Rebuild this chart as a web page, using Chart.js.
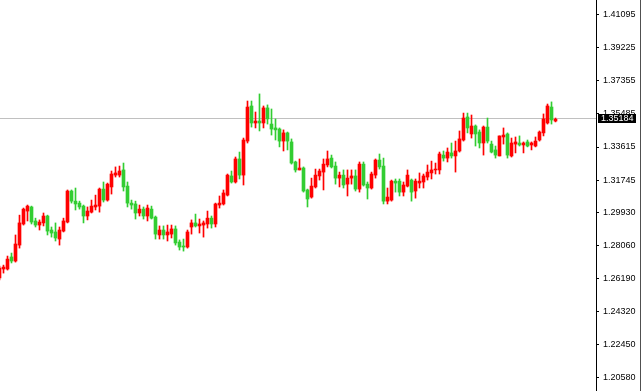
<!DOCTYPE html>
<html>
<head>
<meta charset="utf-8">
<script src="https://cdn.jsdelivr.net/npm/chart.js@4.4.1/dist/chart.umd.min.js"></script>
<style>
    html, body { margin: 0; padding: 0; background: #ffffff; }
    canvas { display: block; }
</style>
</head>
<body>
<canvas id="priceChart" width="643" height="391"></canvas>
<script>
// candle data, oldest first
const opens = [
    1.2622, 1.2673, 1.2673, 1.2741, 1.2718, 1.2808, 1.2927, 1.3000, 1.3023, 1.2944,
    1.2921, 1.2933, 1.2972, 1.2893, 1.2882, 1.2842, 1.2887, 1.2938, 1.3113, 1.3056,
    1.3045, 1.3028, 1.2972, 1.2994, 1.3023, 1.3028, 1.3124, 1.3062, 1.3136, 1.3203,
    1.3203, 1.3232, 1.3141, 1.3045, 1.3040, 1.2989, 1.3011, 1.2972, 1.3011, 1.2966,
    1.2865, 1.2893, 1.2865, 1.2870, 1.2899, 1.2825, 1.2803, 1.2797, 1.2910, 1.2933,
    1.2916, 1.2921, 1.2927, 1.2960, 1.2927, 1.3034, 1.3040, 1.3090, 1.3198, 1.3164,
    1.3294, 1.3203, 1.3395, 1.3593, 1.3497, 1.3508, 1.3497, 1.3582, 1.3491, 1.3469,
    1.3463, 1.3395, 1.3441, 1.3390, 1.3277, 1.3232, 1.3243, 1.3119, 1.3079, 1.3136,
    1.3198, 1.3220, 1.3260, 1.3299, 1.3254, 1.3186, 1.3203, 1.3152, 1.3186, 1.3198,
    1.3124, 1.3265, 1.3152, 1.3130, 1.3203, 1.3288, 1.3254, 1.3056, 1.3062, 1.3169,
    1.3169, 1.3107, 1.3141, 1.3175, 1.3113, 1.3158, 1.3164, 1.3192, 1.3215, 1.3232,
    1.3232, 1.3316, 1.3299, 1.3328, 1.3311, 1.3339, 1.3401, 1.3531, 1.3435, 1.3480,
    1.3446, 1.3384, 1.3474, 1.3378, 1.3345, 1.3311, 1.3418, 1.3435, 1.3311, 1.3378,
    1.3384, 1.3373, 1.3390, 1.3373, 1.3367, 1.3401, 1.3441, 1.3497, 1.3587, 1.3508
]
const highs = [
    1.2690, 1.2695, 1.2746, 1.2763, 1.2865, 1.2977, 1.3017, 1.3034, 1.3028, 1.2960,
    1.2950, 1.2989, 1.2977, 1.2910, 1.2933, 1.2910, 1.2960, 1.3119, 1.3119, 1.3130,
    1.3056, 1.3034, 1.3023, 1.3062, 1.3090, 1.3130, 1.3164, 1.3158, 1.3226, 1.3249,
    1.3254, 1.3271, 1.3164, 1.3062, 1.3056, 1.3034, 1.3023, 1.3034, 1.3028, 1.2972,
    1.2916, 1.2916, 1.2921, 1.2921, 1.2916, 1.2837, 1.2842, 1.2893, 1.2950, 1.2983,
    1.2955, 1.2944, 1.3000, 1.2972, 1.3045, 1.3085, 1.3119, 1.3209, 1.3226, 1.3305,
    1.3333, 1.3412, 1.3621, 1.3621, 1.3559, 1.3661, 1.3593, 1.3599, 1.3576, 1.3520,
    1.3469, 1.3458, 1.3446, 1.3407, 1.3282, 1.3294, 1.3249, 1.3124, 1.3186, 1.3237,
    1.3237, 1.3294, 1.3339, 1.3316, 1.3277, 1.3220, 1.3232, 1.3232, 1.3232, 1.3232,
    1.3277, 1.3277, 1.3164, 1.3220, 1.3294, 1.3322, 1.3299, 1.3130, 1.3175, 1.3181,
    1.3181, 1.3164, 1.3232, 1.3181, 1.3181, 1.3215, 1.3209, 1.3260, 1.3282, 1.3271,
    1.3333, 1.3339, 1.3356, 1.3384, 1.3395, 1.3452, 1.3553, 1.3553, 1.3542, 1.3486,
    1.3458, 1.3480, 1.3525, 1.3395, 1.3367, 1.3424, 1.3469, 1.3441, 1.3412, 1.3418,
    1.3424, 1.3390, 1.3401, 1.3390, 1.3418, 1.3452, 1.3548, 1.3604, 1.3616, 1.3525
]
const lows = [
    1.2611, 1.2650, 1.2667, 1.2707, 1.2712, 1.2791, 1.2921, 1.2944, 1.2927, 1.2910,
    1.2893, 1.2916, 1.2865, 1.2853, 1.2831, 1.2808, 1.2882, 1.2933, 1.3045, 1.3006,
    1.3011, 1.2933, 1.2950, 1.2989, 1.3006, 1.2994, 1.3051, 1.3056, 1.3096, 1.3192,
    1.3192, 1.3113, 1.3023, 1.3011, 1.2955, 1.2972, 1.2955, 1.2944, 1.2955, 1.2842,
    1.2842, 1.2842, 1.2831, 1.2848, 1.2808, 1.2780, 1.2774, 1.2791, 1.2870, 1.2910,
    1.2876, 1.2853, 1.2904, 1.2904, 1.2910, 1.3017, 1.3034, 1.3085, 1.3158, 1.3158,
    1.3181, 1.3147, 1.3384, 1.3474, 1.3469, 1.3452, 1.3469, 1.3491, 1.3429, 1.3401,
    1.3362, 1.3339, 1.3345, 1.3265, 1.3220, 1.3232, 1.3107, 1.3023, 1.3073, 1.3130,
    1.3175, 1.3119, 1.3249, 1.3243, 1.3152, 1.3136, 1.3130, 1.3085, 1.3152, 1.3113,
    1.3107, 1.3141, 1.3068, 1.3124, 1.3186, 1.3237, 1.3040, 1.3040, 1.3056, 1.3107,
    1.3085, 1.3085, 1.3136, 1.3056, 1.3073, 1.3130, 1.3130, 1.3175, 1.3181, 1.3209,
    1.3209, 1.3282, 1.3277, 1.3299, 1.3220, 1.3333, 1.3395, 1.3441, 1.3412, 1.3367,
    1.3356, 1.3316, 1.3384, 1.3328, 1.3299, 1.3311, 1.3378, 1.3299, 1.3305, 1.3328,
    1.3367, 1.3328, 1.3362, 1.3345, 1.3362, 1.3395, 1.3424, 1.3491, 1.3491, 1.3503
]
const closes = [
    1.2678, 1.2684, 1.2729, 1.2718, 1.2814, 1.2933, 1.3011, 1.3028, 1.2938, 1.2921,
    1.2938, 1.2972, 1.2887, 1.2876, 1.2848, 1.2893, 1.2944, 1.3113, 1.3056, 1.3040,
    1.3023, 1.2972, 1.3000, 1.3028, 1.3034, 1.3124, 1.3062, 1.3152, 1.3209, 1.3215,
    1.3226, 1.3136, 1.3045, 1.3034, 1.2989, 1.3011, 1.2972, 1.3017, 1.2960, 1.2870,
    1.2893, 1.2865, 1.2882, 1.2899, 1.2820, 1.2797, 1.2797, 1.2882, 1.2933, 1.2916,
    1.2927, 1.2933, 1.2960, 1.2927, 1.3040, 1.3045, 1.3102, 1.3203, 1.3164, 1.3294,
    1.3203, 1.3401, 1.3587, 1.3497, 1.3508, 1.3497, 1.3582, 1.3520, 1.3463, 1.3458,
    1.3395, 1.3441, 1.3395, 1.3271, 1.3232, 1.3243, 1.3113, 1.3068, 1.3141, 1.3203,
    1.3226, 1.3265, 1.3294, 1.3249, 1.3186, 1.3203, 1.3147, 1.3186, 1.3198, 1.3124,
    1.3265, 1.3147, 1.3130, 1.3209, 1.3288, 1.3249, 1.3056, 1.3079, 1.3169, 1.3158,
    1.3107, 1.3147, 1.3203, 1.3107, 1.3169, 1.3169, 1.3198, 1.3220, 1.3232, 1.3237,
    1.3322, 1.3299, 1.3333, 1.3311, 1.3339, 1.3407, 1.3525, 1.3469, 1.3480, 1.3435,
    1.3384, 1.3474, 1.3395, 1.3333, 1.3316, 1.3424, 1.3429, 1.3316, 1.3384, 1.3390,
    1.3373, 1.3384, 1.3367, 1.3384, 1.3395, 1.3446, 1.3520, 1.3593, 1.3514, 1.3518
]

// price axis labels and current bid
const priceTicks = [1.41095, 1.39225, 1.37355, 1.35485, 1.33615, 1.31745, 1.29930, 1.28060, 1.26190, 1.24320, 1.22450, 1.20580]
const currentPrice = 1.35184

const upColor = '#ff0000'
const downColor = '#32cd32'

window.addEventListener("load", (event) => {

    var ctx = document.getElementById('priceChart')

    var candleColors = opens.map((o, i) => closes[i] > o ? upColor : downColor)

    const bodies = {
        label: 'Body',
        data: opens.map((o, i) => ({ x: i, y: [o, closes[i]] })),
        backgroundColor: candleColors,
        barThickness: 3,
        grouped: false
    }

    const wicks = {
        label: 'Wick',
        data: lows.map((l, i) => ({ x: i, y: [l, highs[i]] })),
        backgroundColor: candleColors,
        barThickness: 1,
        grouped: false
    }

    //bid line, price box and the window edge
    const priceMarker = {
        id: 'priceMarker',
        beforeDatasetsDraw(chart) {
            const c = chart.ctx
            const area = chart.chartArea
            const y = Math.round(chart.scales.y.getPixelForValue(currentPrice)) - 0.5
            c.save()
            c.strokeStyle = '#c0c0c0'
            c.lineWidth = 1
            c.beginPath()
            c.moveTo(area.left, y)
            c.lineTo(area.right, y)
            c.stroke()
            c.restore()
        },
        afterDraw(chart) {
            const c = chart.ctx
            const area = chart.chartArea
            const y = Math.round(chart.scales.y.getPixelForValue(currentPrice)) - 0.5
            c.save()
            c.fillStyle = '#000000'
            c.fillRect(area.right + 2, y - 4.5, 38, 9)
            c.fillStyle = '#ffffff'
            c.font = '9px "Liberation Sans", Arial, sans-serif'
            c.textBaseline = 'middle'
            c.textAlign = 'left'
            c.fillText(currentPrice.toFixed(5), area.right + 5, y + 0.5)
            c.strokeStyle = '#505050'
            c.lineWidth = 1
            c.beginPath()
            c.moveTo(640.5, 0)
            c.lineTo(640.5, chart.height)
            c.stroke()
            c.restore()
        }
    }

    new Chart(ctx, {
        type: 'bar',
        data: {
            datasets: [bodies, wicks]
        },
        options: {
            responsive: false,
            animation: false,
            devicePixelRatio: 1,
            layout: {
                autoPadding: false,
                padding: 0
            },
            plugins: {
                legend: { display: false },
                tooltip: { enabled: false }
            },
            scales: {
                x: {
                    type: 'linear',
                    display: false,
                    offset: false,
                    min: 0.125,
                    max: 149.125
                },
                y: {
                    position: 'right',
                    min: 1.19845,
                    max: 1.41911,
                    afterBuildTicks: (scale) => {
                        scale.ticks = priceTicks.map(v => ({ value: v }))
                    },
                    afterFit: (scale) => {
                        // fixed axis width, no extra room above/below the plot
                        scale.width = 47
                        scale.paddingTop = 0
                        scale.paddingBottom = 0
                    },
                    border: {
                        display: true,
                        color: '#000000',
                        width: 1
                    },
                    grid: {
                        drawOnChartArea: false,
                        drawTicks: true,
                        tickLength: 3,
                        color: '#000000'
                    },
                    ticks: {
                        color: '#000000',
                        padding: 4,
                        font: {
                            family: '"Liberation Sans", Arial, sans-serif',
                            size: 9
                        },
                        callback: (value) => value.toFixed(5)
                    }
                }
            }
        },
        plugins: [priceMarker]
    })
});
</script>
</body>
</html>
